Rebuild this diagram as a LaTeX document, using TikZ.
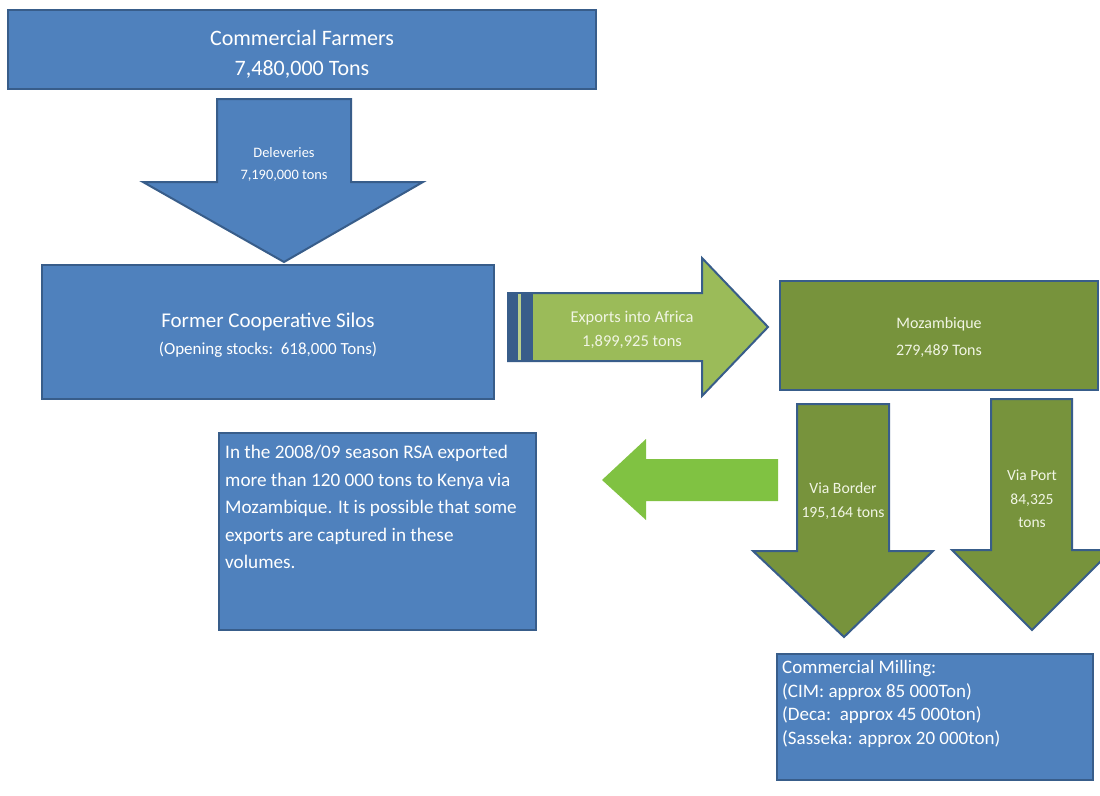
\documentclass[tikz,border=0pt]{standalone}
\usepackage{fontspec}
\setmainfont{Carlito}
\usetikzlibrary{positioning}
\definecolor{cblue}{HTML}{4F81BD}
\definecolor{cedge}{HTML}{385D8A}
\definecolor{colive}{HTML}{77933C}
\definecolor{clight}{HTML}{9BBB59}
\definecolor{clime}{HTML}{80C242}
\definecolor{ccream}{HTML}{F1F5E4}

\begin{document}
\begin{tikzpicture}[x=1pt,y=-1pt,
  box/.style={draw=cedge, line width=2pt, fill=cblue, inner sep=0pt},
  greenbox/.style={box, fill=colive},
  boxtext/.style={text=white, align=center, inner sep=0pt},
  flow/.style={draw=cedge, line width=2pt, line join=miter},
  flowtext/.style={text=ccream, align=center, inner sep=0pt}]
  \clip (0,0) rectangle (1100,795);
  \fill[white] (0,0) rectangle (1100,795);

  % boxes
  \node[box, minimum width=588pt, minimum height=79pt] (farmers) at (302,49.5) {};
  \node[box, minimum width=452pt, minimum height=134pt] (silos) at (268,332) {};
  \node[greenbox, minimum width=318pt, minimum height=109pt] (mozambique) at (939,335.5) {};
  \node[box, minimum width=317pt, minimum height=197pt] (note) at (377.5,531.5) {};
  \node[box, minimum width=316pt, minimum height=126pt] (milling) at (935,717) {};

  \node[boxtext, font=\fontsize{22}{30}\selectfont] (farmerstext)
    at ([yshift=-5pt]farmers.center) {Commercial Farmers\\7,480,000 Tons};
  \node[boxtext, font=\fontsize{17}{27}\selectfont] (silostext)
    at ([yshift=-3pt]silos.center)
    {{\fontsize{21}{27}\selectfont Former Cooperative Silos}\\
     (Opening stocks:~~618,000 Tons)};
  \node[flowtext, font=\fontsize{16}{27}\selectfont] (mozambiquetext)
    at ([yshift=-2pt]mozambique.center) {Mozambique\\279,489 Tons};

  % block arrows
  \filldraw[flow, fill=cblue] (217,99) -- (351,99) -- (351,182) -- (423,182)
    -- (284,262) -- (143,182) -- (217,182) -- cycle;
  \filldraw[flow, fill=clight] (508,293) -- (702,293) -- (702,258) -- (768,327)
    -- (702,396) -- (702,361) -- (508,361) -- cycle;
  \fill[cedge] (508,293) rectangle (532,361);
  \fill[clight!70!white] (518,294) rectangle (521,360);
  \draw[flow] (508,293) rectangle (532,361);
  \filldraw[flow, fill=colive] (797,404) -- (889,404) -- (889,551) -- (933,551)
    -- (844,637) -- (753,551) -- (797,551) -- cycle;
  \filldraw[flow, fill=colive] (991,399) -- (1072,399) -- (1072,550) -- (1112,550)
    -- (1032,630) -- (952,550) -- (991,550) -- cycle;
  \fill[clime] (778,459) -- (646,459) -- (646,439) -- (602,480)
    -- (646,520) -- (646,501) -- (778,501) -- cycle;

  % arrow labels
  \node[flowtext, text=white, font=\fontsize{14.4}{22}\selectfont] (deliv)
    at (284,164) {Deleveries\\7,190,000 tons};
  \node[flowtext, font=\fontsize{16.5}{24}\selectfont] (exports)
    at (632,330) {Exports into Africa\\1,899,925 tons};
  \node[flowtext, font=\fontsize{15.7}{24}\selectfont] (border)
    at (843,501) {Via Border\\195,164 tons};
  \node[flowtext, font=\fontsize{15.5}{23.5}\selectfont] (port)
    at (1032,499) {Via Port\\84,325\\tons};

  % text in the lower boxes
  \node[anchor=north west, inner sep=0pt, text=white, align=left,
        font=\fontsize{19.2}{27.5}\selectfont] (notetext) at (225,445)
    {In the 2008/09 season RSA exported\\
     more than 120 000 tons to Kenya via\\
     Mozambique. It is possible that some\\
     exports are captured in these\\
     volumes.};
  \node[anchor=north west, inner sep=0pt, text=white, align=left,
        font=\fontsize{19}{23.7}\selectfont] (millingtext) at (782,660)
    {Commercial Milling:\\
     (CIM: approx 85 000Ton)\\
     (Deca:~~approx 45 000ton)\\
     (Sasseka: approx 20 000ton)};
\end{tikzpicture}
\end{document}
